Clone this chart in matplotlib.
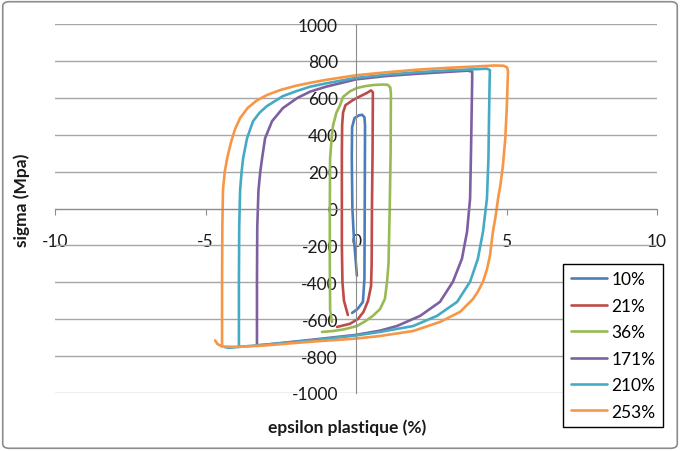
import numpy as np
import matplotlib.pyplot as plt
from matplotlib.patches import FancyBboxPatch

plt.rcParams['font.family'] = ['Lato', 'DejaVu Sans']
plt.rcParams['axes.unicode_minus'] = False

labels = ["10%", "21%", "36%", "171%", "210%", "253%"]
colors = ["#4A7EBB", "#BE4B48", "#98B954", "#7D60A0", "#46AAC5", "#F79646"]

# loops: strain (%), stress (MPa)
eps_10 = [0.03, -0.07, -0.12, -0.14, -0.13, -0.05, 0.1, 0.2, 0.28, 0.3, 0.29, 0.28, 0.23, 0.05, -0.13]
sig_10 = [-364, -163, 0, 272, 440, 490, 505, 508, 495, 450, 0, -380, -506, -545, -566]

eps_21 = [-0.27, -0.4, -0.45, -0.47, -0.47, -0.47, -0.46, -0.43, -0.35, -0.1, 0.1, 0.36, 0.5, 0.56,
          0.56, 0.55, 0.53, 0.52, 0.5, 0.4, 0.25, 0.07, -0.2, -0.63]
sig_21 = [-577, -500, -400, -200, 100, 300, 452, 520, 560, 588, 605, 626, 640, 630,
          600, 300, 0, -300, -420, -500, -560, -598, -625, -642]

eps_36 = [-0.8, -0.86, -0.87, -0.87, -0.86, -0.8, -0.76, -0.65, -0.53, -0.43, -0.2, 0.03, 0.3, 0.56,
          0.9, 1.06, 1.14, 1.16, 1.15, 1.12, 1.08, 1.03, 0.96, 0.8, 0.56, 0.3, 0.03, -0.4, -0.76, -1.13]
sig_36 = [-615, -550, -300, 0, 272, 400, 452, 520, 560, 605, 635, 653, 663, 669,
          672, 670, 655, 620, 300, 0, -300, -400, -490, -545, -582, -612, -637, -655, -664, -669]

eps_171 = [-3.29, -3.29, -3.28, -3.24, -3.18, -3.12, -3.02, -2.79, -2.43, -1.96, -1.53, -1.0, 0.0, 1.0,
           2.0, 3.0, 3.7, 3.86, 3.86, 3.84, 3.82, 3.79, 3.69, 3.52, 3.22, 2.79, 2.13, 1.36, 0.8, 0.0,
           -1.5, -3.0, -3.3]
sig_171 = [-745, -400, -100, 100, 200, 272, 381, 473, 544, 598, 633, 660, 700, 718,
           730, 740, 747, 742, 700, 500, 300, 54, -125, -272, -397, -506, -582, -637, -662, -685,
           -712, -738, -742]

eps_210 = [-3.89, -3.89, -3.88, -3.85, -3.8, -3.75, -3.62, -3.42, -3.2, -2.96, -2.43, -2.0, -1.53, -1.0,
           0.0, 1.0, 2.0, 3.0, 4.0, 4.35, 4.45, 4.44, 4.42, 4.4, 4.35, 4.22, 4.05, 3.79, 3.36, 2.69,
           1.9, 0.8, 0.0, -1.5, -3.0, -3.9, -4.2, -4.35]
sig_210 = [-748, -400, -100, 100, 200, 272, 381, 473, 520, 555, 609, 635, 660, 678,
           708, 725, 738, 748, 755, 758, 750, 700, 500, 272, 54, -125, -272, -397, -506, -582,
           -637, -669, -688, -715, -738, -750, -755, -752]

eps_253 = [-4.45, -4.45, -4.44, -4.42, -4.36, -4.27, -4.15, -4.02, -3.85, -3.6, -3.3, -2.96, -2.5, -2.0,
           -1.5, -1.0, 0.0, 1.0, 2.0, 3.0, 4.0, 4.6, 4.9, 5.02, 5.05, 5.04, 5.01, 4.96, 4.88, 4.8, 4.72,
           4.64, 4.55, 4.45, 4.35, 4.22, 4.05, 3.89, 3.46, 2.79, 1.9, 0.8, 0.0, -1.5, -3.0, -3.9,
           -4.45, -4.6, -4.68]
sig_253 = [-745, -400, -100, 100, 200, 280, 360, 430, 490, 545, 585, 615, 643, 665,
           682, 697, 722, 738, 752, 762, 770, 775, 774, 765, 745, 700, 550, 380, 230, 130, 54,
           -40, -125, -256, -330, -397, -450, -490, -560, -615, -664, -691, -705, -722, -742, -750,
           -748, -735, -715]

series = [(eps_10, sig_10), (eps_21, sig_21), (eps_36, sig_36),
          (eps_171, sig_171), (eps_210, sig_210), (eps_253, sig_253)]

fig = plt.figure(figsize=(6.8, 4.52), dpi=100)
ax = fig.add_axes([55 / 680, 58 / 452, 602 / 680, 369 / 452])

for (x, y), lab, c in zip(series, labels, colors):
    ax.plot(x, y, color=c, lw=1.9, label=lab, solid_capstyle='round', solid_joinstyle='round')

ax.set_xlim(-10, 10)
ax.set_ylim(-1000, 1000)
ax.set_xticks([-10, -5, 0, 5, 10])
ax.set_yticks(np.arange(-1000, 1001, 200))
ax.yaxis.grid(True, color='#a6a6a6', lw=1)
ax.set_axisbelow(True)

for s in ['top', 'right']:
    ax.spines[s].set_visible(False)
ax.spines['left'].set_position(('data', 0))
ax.spines['bottom'].set_position(('data', 0))
ax.spines['left'].set_color('#8c8c8c')
ax.spines['bottom'].set_color('#8c8c8c')
ax.tick_params(axis='x', length=4, color='#8c8c8c', pad=14, labelsize=12.5, labelcolor='#1a1a1a')
ax.tick_params(axis='y', length=0, pad=13, labelsize=12.5, labelcolor='#1a1a1a')

fig.text(22 / 680, 1 - 200 / 452, "sigma (Mpa)", rotation=90, ha='center', va='center',
         fontsize=12.5, fontweight='bold', color='#1a1a1a')
fig.text(347 / 680, 1 - 428 / 452, "epsilon plastique (%)", ha='center', va='center',
         fontsize=12.5, fontweight='bold', color='#1a1a1a')

leg = ax.legend(loc='lower right', bbox_to_anchor=(672 / 680, 15 / 452), bbox_transform=fig.transFigure,
                fontsize=12.5, handlelength=2.1, handletextpad=0.25, labelspacing=0.6,
                borderpad=0.45, fancybox=False, framealpha=1)
leg.get_frame().set_edgecolor('black')
leg.get_frame().set_linewidth(1)

border = FancyBboxPatch((0.004, 0.006), 0.992, 0.988, boxstyle="round,pad=0,rounding_size=0.01",
                        transform=fig.transFigure, fill=False, edgecolor='#8c8c8c', lw=1.2)
fig.patches.append(border)

fig.savefig("out.png", dpi=100)
